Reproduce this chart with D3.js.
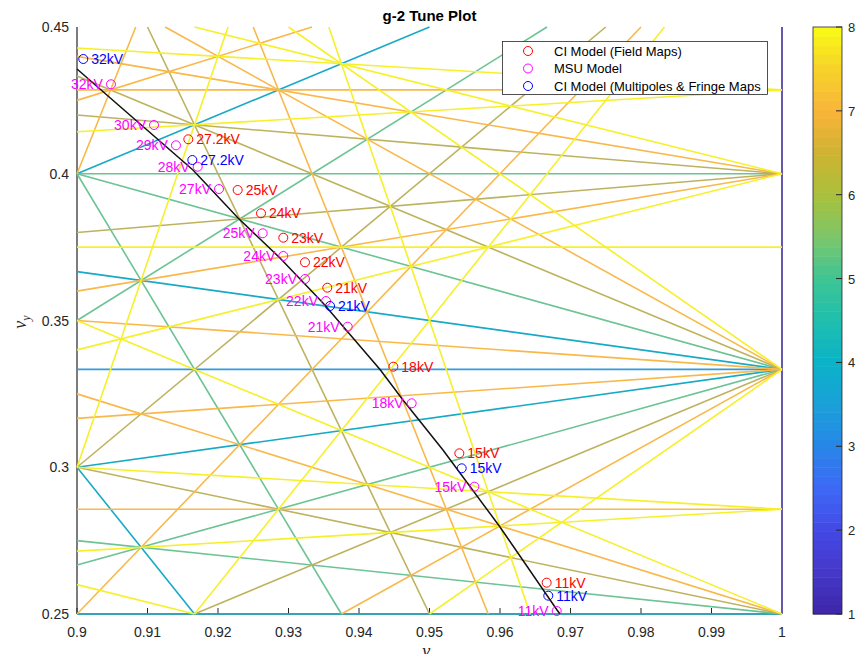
<!DOCTYPE html>
<html><head><meta charset="utf-8">
<script src="https://cdn.jsdelivr.net/npm/d3@7"></script>
<style>
body{margin:0;background:#fff}
svg{display:block;font-family:"Liberation Sans",Arial,Helvetica,sans-serif}
</style>
</head><body>
<svg id="chart" width="860" height="654"></svg>
<script>
// ---------- data ----------
const xDomain = [0.9, 1.0];
const yDomain = [0.25, 0.45];
const xTickValues = [0.9, 0.91, 0.92, 0.93, 0.94, 0.95, 0.96, 0.97, 0.98, 0.99, 1.0];
const yTickValues = [0.25, 0.3, 0.35, 0.4, 0.45];
const colorbarTicks = [1, 2, 3, 4, 5, 6, 7, 8];
const maxOrder = 8;

// CI Model (Field Maps)
const fieldKV  = [27.2, 25, 24, 23, 22, 21, 18, 15, 11];
const fieldNux = [0.91579, 0.92279, 0.92610, 0.92926, 0.93234, 0.93550, 0.94487, 0.95423, 0.96662];
const fieldNuy = [0.41174, 0.39446, 0.38652, 0.37821, 0.36983, 0.36118, 0.33426, 0.30475, 0.26067];

// MSU Model
const msuKV  = [32, 30, 29, 28, 27, 25, 24, 23, 22, 21, 18, 15, 11];
const msuNux = [0.90482, 0.91092, 0.91404, 0.91712, 0.92014, 0.92634, 0.92926, 0.93234, 0.93532, 0.93840, 0.94747, 0.95636, 0.96804];
const msuNuy = [0.43048, 0.41661, 0.40969, 0.40240, 0.39480, 0.37971, 0.37198, 0.36414, 0.35664, 0.34789, 0.32179, 0.29337, 0.25102];

// CI Model (Multipoles & Fringe Maps)
const multKV  = [32, 27.2, 21, 15, 11];
const multNux = [0.90089, 0.91636, 0.93589, 0.95457, 0.96685];
const multNuy = [0.43910, 0.40468, 0.35494, 0.29964, 0.25624];

// black working-line
const pathNux = [0.9, 0.91645, 0.92284, 0.92879, 0.93489, 0.94298, 0.94624, 0.95191, 0.96, 0.96809, 0.96851];
const pathNuy = [0.4357, 0.40128, 0.38492, 0.37130, 0.35596, 0.33333, 0.32291, 0.30588, 0.27964, 0.25136, 0.25];

const legendLabels = ["CI Model (Field Maps)", "MSU Model", "CI Model (Multipoles & Fringe Maps"];

// ---------- styles ----------
const seriesColors = ["#ff0000", "#ff00ff", "#0000ff"];
const orderColors = {1:"#6459ad", 2:"#4a62d8", 3:"#2e9ce0", 4:"#17aac4", 5:"#6cc394", 6:"#bdb25e", 7:"#f9b84a", 8:"#f6f02a"};
const parulaStops = [
  [1.0,"#3e26a8"],[1.5,"#4537c8"],[2.0,"#4449e6"],[2.5,"#3d68f5"],[3.0,"#2886e8"],
  [3.5,"#1aa0d8"],[4.0,"#0ab3c8"],[4.5,"#1fbfae"],[5.0,"#3ec594"],[5.5,"#7dc66a"],
  [6.0,"#a9c13c"],[6.5,"#d0b232"],[7.0,"#f9b53a"],[7.5,"#f7d22a"],[8.0,"#f9fb14"]
];

const svg = d3.select("#chart");
const M = {left: 77, right: 782, top: 27, bottom: 614};
const x = d3.scaleLinear().domain(xDomain).range([M.left, M.right]);
const y = d3.scaleLinear().domain(yDomain).range([M.bottom, M.top]);
const textColor = "#262626";

// ---------- resonance lines ----------
function gcd(a, b){ a=Math.abs(a); b=Math.abs(b); while(b){ const t=a%b; a=b; b=t; } return a; }
function clipLine(m, n, p){
  const eps = 1e-9, pts = [];
  const [x0,x1] = xDomain, [y0,y1] = yDomain;
  if (n !== 0){
    for (const xx of [x0,x1]){ const yy=(p-m*xx)/n; if (yy>=y0-eps && yy<=y1+eps) pts.push([xx,yy]); }
  }
  if (m !== 0){
    for (const yy of [y0,y1]){ const xx=(p-n*yy)/m; if (xx>=x0-eps && xx<=x1+eps) pts.push([xx,yy]); }
  }
  const uniq = [];
  for (const q of pts) if (!uniq.some(u => Math.abs(u[0]-q[0])<1e-7 && Math.abs(u[1]-q[1])<1e-7)) uniq.push(q);
  if (uniq.length < 2) return null;
  let best=null, bd=-1;
  for (let i=0;i<uniq.length;i++) for (let j=i+1;j<uniq.length;j++){
    const d=Math.hypot(uniq[i][0]-uniq[j][0], uniq[i][1]-uniq[j][1]); if (d>bd){bd=d; best=[uniq[i],uniq[j]];}
  }
  return bd > 1e-7 ? best : null;
}
const resonances = [];
for (let m=-maxOrder; m<=maxOrder; m++){
  for (let n=0; n<=maxOrder; n++){
    const order = Math.abs(m)+n;
    if (order<1 || order>maxOrder) continue;
    if (n===0 && m<=0) continue;
    const c = [m*xDomain[0]+n*yDomain[0], m*xDomain[1]+n*yDomain[0], m*xDomain[0]+n*yDomain[1], m*xDomain[1]+n*yDomain[1]];
    const lo = Math.ceil(Math.min(...c)-1e-9), hi = Math.floor(Math.max(...c)+1e-9);
    for (let p=lo; p<=hi; p++){
      if (gcd(gcd(m,n),p) !== 1) continue;
      const seg = clipLine(m,n,p);
      if (seg) resonances.push({order, seg});
    }
  }
}
resonances.sort((a,b) => a.order - b.order);

// ---------- axes ----------
// left axis line
svg.append("line").attr("x1",M.left).attr("x2",M.left).attr("y1",M.top).attr("y2",M.bottom)
  .attr("stroke",textColor).attr("stroke-width",1.2);
svg.append("line").attr("x1",M.left).attr("x2",M.right).attr("y1",M.bottom).attr("y2",M.bottom)
  .attr("stroke",textColor).attr("stroke-width",1);

// x ticks (inside)
const xt = svg.append("g");
xTickValues.forEach(v => {
  xt.append("line").attr("x1",x(v)).attr("x2",x(v)).attr("y1",M.bottom).attr("y2",M.bottom-6)
    .attr("stroke",textColor).attr("stroke-width",1);
  xt.append("text").attr("x",x(v)).attr("y",M.bottom+23).attr("text-anchor","middle")
    .attr("font-size",14).attr("fill",textColor).text(String(+v.toFixed(2)));
});
const yt = svg.append("g");
yTickValues.forEach(v => {
  yt.append("text").attr("x",M.left-8).attr("y",y(v)+5).attr("text-anchor","end")
    .attr("font-size",14).attr("fill",textColor).text(String(+v.toFixed(2)));
});

// resonance lines
svg.append("g").selectAll("line").data(resonances).join("line")
  .attr("x1",d=>x(d.seg[0][0])).attr("y1",d=>y(d.seg[0][1]))
  .attr("x2",d=>x(d.seg[1][0])).attr("y2",d=>y(d.seg[1][1]))
  .attr("stroke",d=>orderColors[d.order])
  .attr("stroke-width",d=>d.order===1?2:1.6)
  .attr("stroke-linecap","butt");

// black line
const pathPts = pathNux.map((v,i)=>[v,pathNuy[i]]);
svg.append("path").datum(pathPts)
  .attr("d", d3.line().x(d=>x(d[0])).y(d=>y(d[1])))
  .attr("fill","none").attr("stroke","#111").attr("stroke-width",1.5);

// series
function drawSeries(nux, nuy, kv, color, side){
  const g = svg.append("g");
  nux.forEach((v,i)=>{
    const cx=x(v), cy=y(nuy[i]);
    g.append("circle").attr("cx",cx).attr("cy",cy).attr("r",4.5)
      .attr("fill","none").attr("stroke",color).attr("stroke-width",1);
    g.append("text").attr("x", side==="right"? cx+8 : cx-8).attr("y",cy+5)
      .attr("text-anchor", side==="right"?"start":"end")
      .attr("font-size",14).attr("fill",color).text(kv[i]+"kV");
  });
}
drawSeries(fieldNux, fieldNuy, fieldKV, seriesColors[0], "right");
drawSeries(msuNux, msuNuy, msuKV, seriesColors[1], "left");
drawSeries(multNux, multNuy, multKV, seriesColors[2], "right");

// title
svg.append("text").attr("x",429.5).attr("y",21).attr("text-anchor","middle")
  .attr("font-size",15).attr("font-weight","bold").attr("fill","#000").text("g-2 Tune Plot");

// axis labels
const yl = svg.append("text").attr("transform","translate(26,322) rotate(-90)")
  .attr("text-anchor","middle").attr("font-family","'Liberation Serif','DejaVu Serif',serif")
  .attr("font-style","italic").attr("fill",textColor);
yl.append("tspan").attr("font-size",18).text("ν");
yl.append("tspan").attr("font-size",12).attr("dy",4).text("y");
const xl = svg.append("text").attr("transform","translate(429,657)")
  .attr("text-anchor","middle").attr("font-family","'Liberation Serif','DejaVu Serif',serif")
  .attr("font-style","italic").attr("fill",textColor);
xl.append("tspan").attr("font-size",18).text("ν");
xl.append("tspan").attr("font-size",12).attr("dy",4).text("x");

// legend
const lg = svg.append("g");
lg.append("rect").attr("x",502.5).attr("y",41.5).attr("width",265).attr("height",53)
  .attr("fill","#fff").attr("stroke",textColor).attr("stroke-width",0.8);
legendLabels.forEach((t,i)=>{
  const ly = 51 + i*17.5;
  lg.append("circle").attr("cx",528).attr("cy",ly).attr("r",4.5)
    .attr("fill","none").attr("stroke",seriesColors[i]).attr("stroke-width",1);
  lg.append("text").attr("x",554).attr("y",ly+4.5).attr("font-size",13).attr("fill","#000").text(t);
});

// colorbar
const cb = {x0: 813, x1: 842};
const cy = d3.scaleLinear().domain([1,8]).range([M.bottom, M.top]);
const cInterp = d3.scaleLinear().domain(parulaStops.map(s=>s[0])).range(parulaStops.map(s=>s[1])).interpolate(d3.interpolateRgb);
const nBands = 64;
const bands = d3.range(nBands);
svg.append("g").selectAll("rect").data(bands).join("rect")
  .attr("x",cb.x0).attr("width",cb.x1-cb.x0)
  .attr("y",i=>cy(1+(i+1)*7/nBands)).attr("height",i=>cy(1+i*7/nBands)-cy(1+(i+1)*7/nBands)+0.5)
  .attr("fill",i=>cInterp(1+(i+0.5)*7/nBands));
svg.append("rect").attr("x",cb.x0).attr("y",M.top).attr("width",cb.x1-cb.x0).attr("height",M.bottom-M.top)
  .attr("fill","none").attr("stroke",textColor).attr("stroke-width",0.8);
colorbarTicks.forEach(v=>{
  svg.append("line").attr("x1",cb.x1-6).attr("x2",cb.x1).attr("y1",cy(v)).attr("y2",cy(v))
    .attr("stroke",textColor).attr("stroke-width",1);
  svg.append("text").attr("x",cb.x1+6).attr("y",cy(v)+5).attr("font-size",13).attr("fill",textColor).text(v);
});
</script>
</body></html>
